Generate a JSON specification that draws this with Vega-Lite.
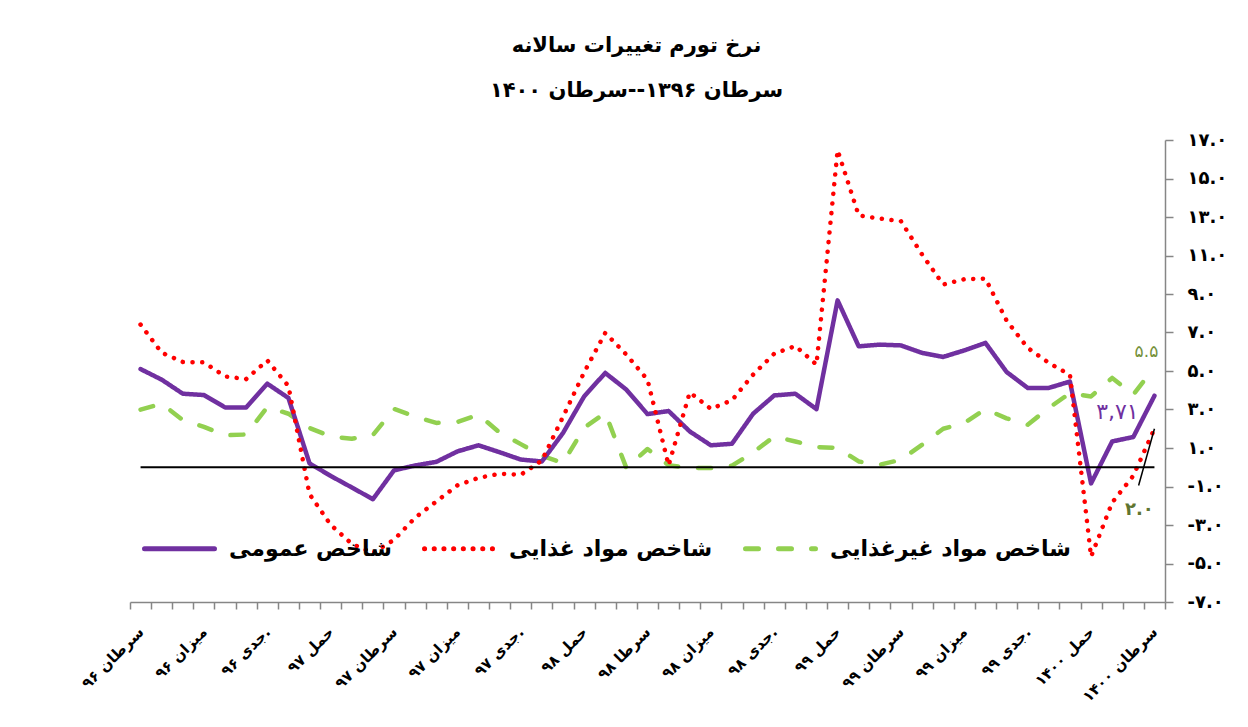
{
  "$schema": "https://vega.github.io/schema/vega-lite/v6.json",
  "autosize": "none",
  "width": 1035,
  "height": 462,
  "padding": {"left": 130, "top": 140, "right": 83, "bottom": 125},
  "background": "white",
  "title": {
    "text": "نرخ تورم تغییرات سالانه",
    "subtitle": "سرطان ۱۳۹۶--سرطان ۱۴۰۰",
    "anchor": "middle",
    "dx": -11,
    "offset": 30,
    "font": "DejaVu Sans",
    "subtitleFont": "DejaVu Sans",
    "fontSize": 21,
    "subtitleFontSize": 21,
    "fontWeight": "bold",
    "subtitleFontWeight": "bold",
    "color": "black",
    "subtitleColor": "black",
    "subtitlePadding": 24
  },
  "config": {
    "view": {"stroke": null},
    "axis": {"grid": false, "domainColor": "#868686", "tickColor": "#868686", "domainWidth": 1.5, "tickWidth": 1.5, "labelColor": "black", "labelFont": "DejaVu Sans", "labelFontWeight": "bold", "labelOverlap": false},
    "axisY": {"labelOverlap": false, "tickCount": 13}
  },
  "layer": [
    {
      "data": {"values": [
        {"m": "سرطان ۹۶", "general": 5.10, "food": 7.41, "nonfood": 2.99},
        {"m": "اسد ۹۶", "general": 4.55, "food": 5.95, "nonfood": 3.30},
        {"m": "سنبله ۹۶", "general": 3.82, "food": 5.47, "nonfood": 2.45},
        {"m": "میزان ۹۶", "general": 3.75, "food": 5.45, "nonfood": 2.10},
        {"m": "عقرب ۹۶", "general": 3.11, "food": 4.72, "nonfood": 1.66},
        {"m": "قوس ۹۶", "general": 3.11, "food": 4.58, "nonfood": 1.70},
        {"m": "جدی ۹۶.", "general": 4.34, "food": 5.55, "nonfood": 3.13},
        {"m": "دلو ۹۶", "general": 3.60, "food": 4.22, "nonfood": 2.78},
        {"m": "حوت ۹۶", "general": 0.20, "food": -1.40, "nonfood": 2.04},
        {"m": "حمل ۹۷", "general": -0.45, "food": -2.99, "nonfood": 1.60},
        {"m": "ثور ۹۷", "general": -1.05, "food": -3.98, "nonfood": 1.48},
        {"m": "جوزا ۹۷", "general": -1.66, "food": -4.45, "nonfood": 1.67},
        {"m": "سرطان ۹۷", "general": -0.16, "food": -3.77, "nonfood": 3.03},
        {"m": "اسد ۹۷", "general": 0.09, "food": -2.62, "nonfood": 2.64},
        {"m": "سنبله ۹۷", "general": 0.28, "food": -1.78, "nonfood": 2.30},
        {"m": "میزان ۹۷", "general": 0.82, "food": -0.94, "nonfood": 2.35},
        {"m": "عقرب ۹۷", "general": 1.14, "food": -0.55, "nonfood": 2.73},
        {"m": "قوس ۹۷", "general": 0.78, "food": -0.34, "nonfood": 1.80},
        {"m": "جدی ۹۷.", "general": 0.40, "food": -0.39, "nonfood": 1.20},
        {"m": "دلو ۹۷", "general": 0.30, "food": 0.35, "nonfood": 0.60},
        {"m": "حوت ۹۷", "general": 1.78, "food": 2.62, "nonfood": 0.22},
        {"m": "حمل ۹۸", "general": 3.68, "food": 4.93, "nonfood": 2.05},
        {"m": "ثور ۹۸", "general": 4.90, "food": 6.98, "nonfood": 2.82},
        {"m": "جوزا ۹۸", "general": 4.03, "food": 5.85, "nonfood": -0.04},
        {"m": "سرطا ۹۸", "general": 2.76, "food": 4.55, "nonfood": 0.95},
        {"m": "اسد ۹۸", "general": 2.92, "food": 0.10, "nonfood": 0.10},
        {"m": "سنبله ۹۸", "general": 1.86, "food": 3.89, "nonfood": -0.04},
        {"m": "میزان ۹۸", "general": 1.14, "food": 3.03, "nonfood": -0.04},
        {"m": "عقرب ۹۸", "general": 1.22, "food": 3.48, "nonfood": 0.08},
        {"m": "قوس ۹۸", "general": 2.78, "food": 4.81, "nonfood": 0.77},
        {"m": "جدی ۹۸.", "general": 3.73, "food": 5.90, "nonfood": 1.60},
        {"m": "دلو ۹۸", "general": 3.82, "food": 6.30, "nonfood": 1.34},
        {"m": "حوت ۹۸", "general": 3.02, "food": 5.33, "nonfood": 1.05},
        {"m": "حمل ۹۹", "general": 8.67, "food": 16.47, "nonfood": 1.00},
        {"m": "ثور ۹۹", "general": 6.28, "food": 13.08, "nonfood": 0.30},
        {"m": "جوزا ۹۹", "general": 6.37, "food": 12.92, "nonfood": 0.13},
        {"m": "سرطان ۹۹", "general": 6.33, "food": 12.78, "nonfood": 0.39},
        {"m": "اسد ۹۹", "general": 5.94, "food": 11.05, "nonfood": 1.17},
        {"m": "سنبله ۹۹", "general": 5.73, "food": 9.49, "nonfood": 2.00},
        {"m": "میزان ۹۹", "general": 6.07, "food": 9.77, "nonfood": 2.30},
        {"m": "عقرب ۹۹", "general": 6.46, "food": 9.80, "nonfood": 3.02},
        {"m": "قوس ۹۹", "general": 4.95, "food": 7.62, "nonfood": 2.54},
        {"m": "جدی ۹۹.", "general": 4.12, "food": 6.20, "nonfood": 2.21},
        {"m": "دلو ۹۹", "general": 4.12, "food": 5.42, "nonfood": 3.08},
        {"m": "حوت ۹۹", "general": 4.45, "food": 4.80, "nonfood": 3.85},
        {"m": "حمل ۱۴۰۰", "general": -0.84, "food": -4.64, "nonfood": 3.68},
        {"m": "ثور ۱۴۰۰", "general": 1.34, "food": -1.83, "nonfood": 4.64},
        {"m": "جوزا ۱۴۰۰", "general": 1.57, "food": -0.44, "nonfood": 3.77},
        {"m": "سرطان ۱۴۰۰", "general": 3.71, "food": 2.00, "nonfood": 5.20}
      ]},
      "transform": [{"fold": ["nonfood", "general", "food"], "as": ["series", "v"]}],
      "mark": {"type": "line", "strokeWidth": 4.5, "strokeCap": "round", "strokeJoin": "round"},
      "encoding": {
        "x": {
          "field": "m", "type": "ordinal", "sort": null,
          "scale": {"type": "band", "paddingInner": 0, "paddingOuter": 0,
            "domain": ["سرطان ۹۶","اسد ۹۶","سنبله ۹۶","میزان ۹۶","عقرب ۹۶","قوس ۹۶","جدی ۹۶.","دلو ۹۶","حوت ۹۶","حمل ۹۷","ثور ۹۷","جوزا ۹۷","سرطان ۹۷","اسد ۹۷","سنبله ۹۷","میزان ۹۷","عقرب ۹۷","قوس ۹۷","جدی ۹۷.","دلو ۹۷","حوت ۹۷","حمل ۹۸","ثور ۹۸","جوزا ۹۸","سرطا ۹۸","اسد ۹۸","سنبله ۹۸","میزان ۹۸","عقرب ۹۸","قوس ۹۸","جدی ۹۸.","دلو ۹۸","حوت ۹۸","حمل ۹۹","ثور ۹۹","جوزا ۹۹","سرطان ۹۹","اسد ۹۹","سنبله ۹۹","میزان ۹۹","عقرب ۹۹","قوس ۹۹","جدی ۹۹.","دلو ۹۹","حوت ۹۹","حمل ۱۴۰۰","ثور ۱۴۰۰","جوزا ۱۴۰۰","سرطان ۱۴۰۰"]},
          "axis": {
            "title": null, "orient": "bottom", "tickSize": 7, "tickBand": "extent",
            "labelAngle": -45, "labelAlign": "right", "labelBaseline": "middle",
            "labelPadding": 20, "labelFontSize": 15, "labelLimit": 200, "labelOverlap": false,
            "labelExpr": "test(regexp('^(سرطا|میزان|جدی|حمل)'), datum.value) ? datum.value : ''"
          }
        },
        "y": {
          "field": "v", "type": "quantitative",
          "scale": {"domain": [-7, 17], "nice": false, "zero": false},
          "axis": {
            "title": null, "orient": "right", "tickSize": 8, "labelPadding": 14,
            "labelFontSize": 18, "labelAlign": "left", "labelOverlap": false, "tickCount": 13,
            "values": [-7, -5, -3, -1, 1, 3, 5, 7, 9, 11, 13, 15, 17],
            "labelExpr": "['-۷.۰','-۵.۰','-۳.۰','-۱.۰','۱.۰','۳.۰','۵.۰','۷.۰','۹.۰','۱۱.۰','۱۳.۰','۱۵.۰','۱۷.۰'][(datum.value + 7) / 2]"
          }
        },
        "color": {
          "field": "series", "type": "nominal",
          "scale": {"domain": ["general", "food", "nonfood"], "range": ["#7030A0", "#FF0000", "#92D050"]},
          "legend": {
            "title": null, "orient": "none", "direction": "horizontal",
            "legendX": 12, "legendY": 371, "padding": 0,
            "symbolType": "stroke", "symbolSize": 4900, "symbolStrokeWidth": 5,
            "labelFont": "DejaVu Sans", "labelFontWeight": "bold", "labelFontSize": 22,
            "labelColor": "black", "labelOffset": 12, "columnPadding": 22, "labelLimit": 400,
            "labelExpr": "datum.value == 'general' ? 'شاخص عمومی' : datum.value == 'food' ? 'شاخص مواد غذایی' : 'شاخص مواد غیرغذایی'",
            "encode": {"symbols": {"update": {"strokeCap": {"value": "round"}}}}
          }
        },
        "strokeDash": {
          "field": "series", "type": "nominal",
          "scale": {"domain": ["general", "food", "nonfood"], "range": [[1, 0], [0.1, 9.6], [13, 20]]},
          "legend": null
        }
      }
    },
    {
      "data": {"values": [{"a": "سرطان ۹۶", "b": "سرطان ۱۴۰۰", "y": 0}]},
      "mark": {"type": "rule", "color": "black", "strokeWidth": 2.2},
      "encoding": {
        "x": {"field": "a", "type": "ordinal", "sort": null},
        "x2": {"field": "b"},
        "y": {"field": "y", "type": "quantitative"}
      }
    },
    {
      "data": {"values": [{"a": "جوزا ۱۴۰۰", "b": "سرطان ۱۴۰۰", "y1": -0.95, "y2": 2.0}]},
      "mark": {"type": "rule", "color": "black", "strokeWidth": 1.5},
      "encoding": {
        "x": {"field": "a", "type": "ordinal", "sort": null, "bandPosition": 0.75},
        "x2": {"field": "b"},
        "y": {"field": "y1", "type": "quantitative"},
        "y2": {"field": "y2"}
      }
    },
    {
      "data": {"values": [{"m": "سرطان ۱۴۰۰", "v": 5.2, "t": "۵.۵"}]},
      "mark": {"type": "text", "font": "DejaVu Sans", "fontSize": 17, "color": "#76923C", "dx": -8, "dy": -15},
      "encoding": {
        "x": {"field": "m", "type": "ordinal", "sort": null},
        "y": {"field": "v", "type": "quantitative"},
        "text": {"field": "t"}
      }
    },
    {
      "data": {"values": [{"m": "سرطان ۱۴۰۰", "v": 3.71, "t": "۳,۷۱"}]},
      "mark": {"type": "text", "font": "DejaVu Sans", "fontSize": 22, "color": "#7030A0", "dx": -37, "dy": 16},
      "encoding": {
        "x": {"field": "m", "type": "ordinal", "sort": null},
        "y": {"field": "v", "type": "quantitative"},
        "text": {"field": "t"}
      }
    },
    {
      "data": {"values": [{"m": "سرطان ۱۴۰۰", "v": 2.0, "t": "۲.۰"}]},
      "mark": {"type": "text", "font": "DejaVu Sans", "fontSize": 18, "fontWeight": "bold", "color": "#5F7530", "dx": -15, "dy": 81},
      "encoding": {
        "x": {"field": "m", "type": "ordinal", "sort": null},
        "y": {"field": "v", "type": "quantitative"},
        "text": {"field": "t"}
      }
    }
  ]
}
